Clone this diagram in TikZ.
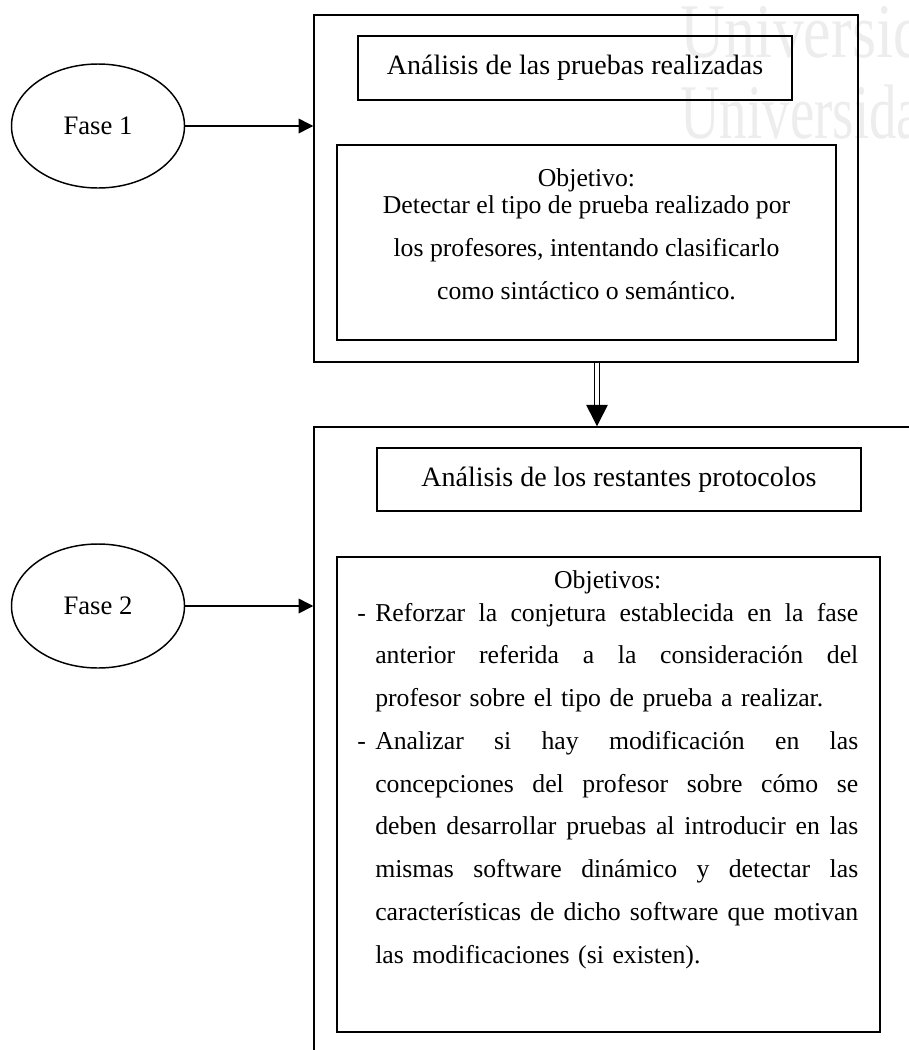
\documentclass[tikz,border=0pt]{standalone}
\usepackage{fontspec}
\setmainfont{Liberation Serif}
\usetikzlibrary{arrows.meta,shapes.geometric}

% one unit = one pixel of a 909 x 1050 sheet
\newdimen\px \px=0.75pt
\newlength\bodyw \setlength\bodyw{362.25pt}   % width of the justified lines
\newlength\hangw \setlength\hangw{13.5pt}     % indent after the bullet dash

% justified line: spaces share the extra room equally
\newcommand\fullline[1]{\hbox to\bodyw{\spaceskip=0.25em plus 1fil\relax #1}}
% last line of a paragraph: natural spacing, flush left
\newcommand\lastline[1]{\hbox to\bodyw{#1\hfil}}
\newcommand\dashitem{\makebox[\hangw][l]{-}}
\newcommand\contitem{\hspace*{\hangw}}

\tikzset{
  frame/.style={draw, line width=1.1pt, rectangle, inner sep=0pt},
  titlebox/.style={frame, font=\fontsize{21pt}{25pt}\selectfont},
  phase/.style={draw, line width=1.1pt, ellipse, inner sep=0pt,
    minimum width=173\px, minimum height=124\px,
    font=\fontsize{20pt}{24pt}\selectfont},
  bodytext/.style={inner sep=0pt, font=\fontsize{19.3pt}{32.06pt}\selectfont},
  conn/.style={line width=1.1pt, -{Triangle[length=11pt,width=11pt]}},
  dblconn/.style={line width=1.1pt, double, double distance=2.6pt,
    -{Triangle[length=16pt,width=16pt]}},
  watermark/.style={text=black!7, inner sep=0pt,
    font=\fontsize{58pt}{58pt}\selectfont},
}

\begin{document}
\begin{tikzpicture}[x=0.75pt, y=-0.75pt]
  \useasboundingbox (0,0) rectangle (909,1050);
  \clip (0,0) rectangle (909,1050);

  % faint watermark behind the chart
  \node[watermark, anchor=base west, xscale=0.8] (wm1) at (680,57) {Universidad};
  \node[watermark, anchor=base west, xscale=0.71] (wm2) at (680,138) {Universidad};

  % ---------- phase 1 ----------
  \node[frame, minimum width=544\px, minimum height=347\px] (o1) at (586,188.5) {};
  \node[titlebox, minimum width=434\px, minimum height=64\px] (t1) at (575,68)
    {Análisis de las pruebas realizadas};
  \node[frame, minimum width=499\px, minimum height=195\px] (b1) at (586.5,242.5) {};
  \node[bodytext, anchor=north, align=center] (x1) at (586.5,168)
    {Objetivo:\\[-11.5pt]
     Detectar el tipo de prueba realizado por\\
     los profesores, intentando clasificarlo\\
     como sintáctico o semántico.};

  \node[phase] (f1) at (98,126) {Fase 1};
  \draw[conn] (f1.east) -- (f1.east -| o1.west);

  % ---------- phase 2 ----------
  \node[frame, minimum width=626\px, minimum height=663\px] (o2) at (627,758.5) {};
  \node[titlebox, minimum width=484\px, minimum height=63\px] (t2) at (619,479.5)
    {Análisis de los restantes protocolos};
  \node[frame, minimum width=543\px, minimum height=475\px] (b2) at (608.5,794.5) {};
  \node[bodytext, anchor=north west, text width=375.75pt, align=left] (x2) at (357,570)
    {\makebox[\linewidth][c]{Objetivos:}\\[-7.3pt]
     \dashitem\fullline{Reforzar la conjetura establecida en la fase}\\
     \contitem\fullline{anterior referida a la consideración del}\\
     \contitem\lastline{profesor sobre el tipo de prueba a realizar.}\\
     \dashitem\fullline{Analizar si hay modificación en las}\\
     \contitem\fullline{concepciones del profesor sobre cómo se}\\
     \contitem\fullline{deben desarrollar pruebas al introducir en las}\\
     \contitem\fullline{mismas software dinámico y detectar las}\\
     \contitem\fullline{características de dicho software que motivan}\\
     \contitem\lastline{las modificaciones (si existen).}};

  \node[phase] (f2) at (98,606) {Fase 2};
  \draw[conn] (f2.east) -- (f2.east -| o2.west);

  % link between the two phases
  \coordinate (ax) at (597,0);
  \draw[dblconn] (ax |- o1.south) -- (ax |- o2.north);
\end{tikzpicture}
\end{document}
